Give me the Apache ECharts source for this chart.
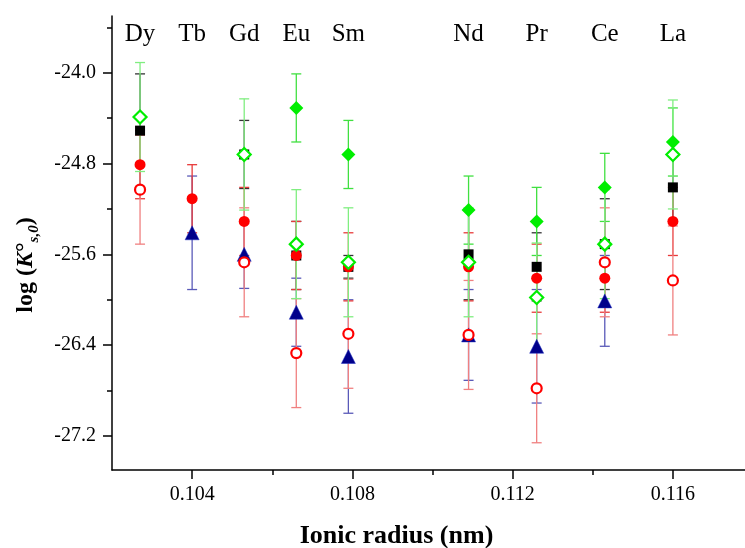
<!DOCTYPE html>
<html>
<head>
<meta charset="utf-8">
<script src="https://cdn.jsdelivr.net/npm/echarts@6/dist/echarts.min.js"></script>
<style>html,body{margin:0;padding:0;background:#fff}#c{width:745px;height:548px}</style>
</head>
<body>
<div id="c"></div>
<script>
const elements = ['Dy','Tb','Gd','Eu','Sm','Nd','Pr','Ce','La'];
const radii = [0.1027,0.1040,0.1053,0.1066,0.1079,0.1109,0.1126,0.1143,0.1160];

const blackSq     = [-24.51, null, -24.72, -25.61, -25.71, -25.60, -25.71, -25.51, -25.01];
const blackSqErr  = [0.50, null, 0.30, 0.30, 0.10, 0.40, 0.30, 0.40, 0.30];
const redFilled   = [-24.81, -25.11, -25.31, -25.61, -25.71, -25.71, -25.81, -25.81, -25.31];
const redFilledErr= [0.30, 0.30, 0.30, 0.30, 0.30, 0.30, 0.30, 0.30, 0.30];
const redOpen     = [-25.03, null, -25.67, -26.47, -26.30, -26.31, -26.78, -25.67, -25.83];
const redOpenErr  = [0.48, null, 0.48, 0.48, 0.48, 0.48, 0.48, 0.48, 0.48];
const blueTri     = [null, -25.41, -25.60, -26.11, -26.50, -26.31, -26.41, -26.01, null];
const blueTriErr  = [null, 0.50, 0.30, 0.30, 0.50, 0.40, 0.50, 0.40, null];
const greenFilled = [null, null, null, -24.31, -24.72, -25.21, -25.31, -25.01, -24.61];
const greenFilledErr = [null, null, null, 0.30, 0.30, 0.30, 0.30, 0.30, 0.30];
const greenOpen   = [-24.39, null, -24.72, -25.51, -25.67, -25.67, -25.98, -25.51, -24.72];
const greenOpenErr= [0.48, null, 0.49, 0.48, 0.48, 0.48, 0.48, 0.48, 0.48];

const yMajor = [-27.2, -26.4, -25.6, -24.8, -24.0];
const yMinor = [-27.6, -26.8, -26.0, -25.2, -24.4, -23.6];
const xMajor = [0.104, 0.108, 0.112, 0.116];
const xMinor = [0.106, 0.110, 0.114];
const labelY = -23.666;

const FONT = '"Liberation Serif", "Times New Roman", serif';

function pts(vals, errs) {
  return radii.map((r, i) => vals[i] == null ? null : [r, vals[i], errs[i]]).filter(Boolean);
}

function errSeries(vals, errs, color) {
  return {
    type: 'custom',
    data: pts(vals, errs),
    encode: { x: 0, y: 1 },
    silent: true,
    z: 2,
    renderItem: function (params, api) {
      const x = api.value(0), y = api.value(1), e = api.value(2);
      const top = api.coord([x, y + e]);
      const bot = api.coord([x, y - e]);
      const hw = 5;
      const st = { stroke: color, lineWidth: 1.3 };
      return {
        type: 'group',
        children: [
          { type: 'line', shape: { x1: top[0], y1: top[1], x2: bot[0], y2: bot[1] }, style: st },
          { type: 'line', shape: { x1: top[0] - hw, y1: top[1], x2: top[0] + hw, y2: top[1] }, style: st },
          { type: 'line', shape: { x1: bot[0] - hw, y1: bot[1], x2: bot[0] + hw, y2: bot[1] }, style: st }
        ]
      };
    }
  };
}

function markSeries(vals, errs, symbol, size, itemStyle) {
  return {
    type: 'scatter',
    data: pts(vals, errs),
    symbol: symbol,
    symbolSize: size,
    itemStyle: Object.assign({ opacity: 1 }, itemStyle),
    z: 3,
    silent: true
  };
}

const chart = echarts.init(document.getElementById('c'), null, { renderer: 'canvas' });

const axisLineStyle = { color: '#000', width: 1.5 };

chart.setOption({
  animation: false,
  backgroundColor: '#fff',
  grid: { left: 112, right: 0, top: 16, bottom: 78, containLabel: false, outerBoundsMode: 'none' },
  xAxis: [{
    type: 'value', min: 0.102, max: 0.1178,
    splitLine: { show: false },
    axisLine: { show: true, lineStyle: axisLineStyle },
    axisTick: { show: true, length: 9, inside: false, customValues: xMajor, lineStyle: axisLineStyle },
    axisLabel: { customValues: xMajor, formatter: v => v.toFixed(3), fontFamily: FONT, fontSize: 20, color: '#000', margin: 15 },
    name: 'Ionic radius (nm)', nameLocation: 'middle', nameGap: 53,
    nameTextStyle: { fontFamily: FONT, fontSize: 26, fontWeight: 'bold', color: '#000', padding: [0, 64, 0, 0] }
  }, {
    type: 'value', min: 0.102, max: 0.1178, position: 'bottom',
    splitLine: { show: false },
    axisLine: { show: false },
    axisTick: { show: true, length: 5, customValues: xMinor, lineStyle: axisLineStyle },
    axisLabel: { show: false }
  }],
  yAxis: [{
    type: 'value', min: -27.5, max: -23.5,
    splitLine: { show: false },
    axisLine: { show: true, lineStyle: axisLineStyle },
    axisTick: { show: true, length: 9, customValues: yMajor, lineStyle: axisLineStyle },
    axisLabel: { customValues: yMajor, formatter: v => v.toFixed(1), fontFamily: FONT, fontSize: 20, color: '#000', margin: 16 },
    name: '{b|log (}{i|K}{b|°}{s|s,0}{b|)}',
    nameLocation: 'middle', nameGap: 70, nameRotate: 90,
    nameTextStyle: {
      padding: [0, 44, 0, 0],
      rich: {
        b: { fontFamily: FONT, fontSize: 24, fontWeight: 'bold', color: '#000', lineHeight: 32, verticalAlign: 'middle' },
        i: { fontFamily: FONT, fontSize: 24, fontWeight: 'bold', fontStyle: 'italic', color: '#000', lineHeight: 32, verticalAlign: 'middle' },
        s: { fontFamily: FONT, fontSize: 15, fontWeight: 'bold', fontStyle: 'italic', color: '#000', lineHeight: 16, verticalAlign: 'bottom' }
      }
    }
  }, {
    type: 'value', min: -27.5, max: -23.5, position: 'left',
    splitLine: { show: false },
    axisLine: { show: false },
    axisTick: { show: true, length: 5, customValues: yMinor, lineStyle: axisLineStyle },
    axisLabel: { show: false }
  }],
  series: [
    errSeries(blackSq, blackSqErr, '#333333'),
    markSeries(blackSq, blackSqErr, 'rect', 10, { color: '#000' }),
    errSeries(blueTri, blueTriErr, '#5a5ab8'),
    markSeries(blueTri, blueTriErr, 'triangle', 14, { color: '#00008b', borderColor: '#2030c0', borderWidth: 0.5 }),
    errSeries(redFilled, redFilledErr, '#e83a3a'),
    markSeries(redFilled, redFilledErr, 'circle', 11, { color: '#ff0000' }),
    errSeries(redOpen, redOpenErr, '#f08080'),
    markSeries(redOpen, redOpenErr, 'circle', 10, { color: '#ffffff', borderColor: '#ff0000', borderWidth: 2.2 }),
    errSeries(greenFilled, greenFilledErr, '#40e040'),
    markSeries(greenFilled, greenFilledErr, 'diamond', 14, { color: '#00ee00' }),
    errSeries(greenOpen, greenOpenErr, '#80ee80'),
    markSeries(greenOpen, greenOpenErr, 'diamond', 13, { color: '#ffffff', borderColor: '#00ee00', borderWidth: 2.2 }),
    {
      type: 'scatter',
      symbol: 'circle',
      symbolSize: 1,
      itemStyle: { color: 'rgba(0,0,0,0)', opacity: 1 },
      silent: true,
      z: 5,
      data: radii.map((r, i) => ({ value: [r, labelY], name: elements[i] })),
      label: { show: true, position: 'inside', formatter: p => p.name, fontFamily: FONT, fontSize: 25, color: '#000', opacity: 1 }
    }
  ]
});
</script>
</body>
</html>
